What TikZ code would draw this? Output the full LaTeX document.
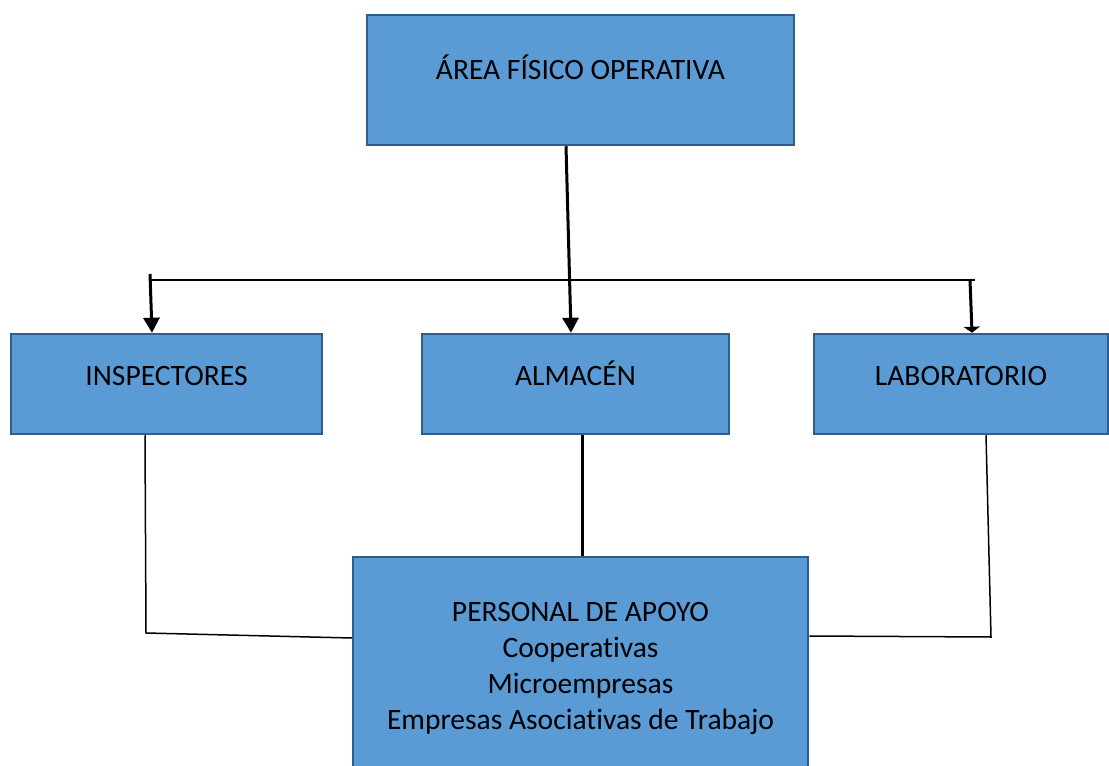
\documentclass[tikz,border=0pt]{standalone}
\usepackage{fontspec}
\setmainfont{Carlito}[Ligatures=NoCommon]
\usetikzlibrary{arrows.meta}
\definecolor{boxfill}{HTML}{5B9BD5}
\definecolor{boxedge}{HTML}{2F5D8C}
\newlength\pxl
\setlength\pxl{0.025cm}

\begin{document}
\begin{tikzpicture}[x=0.025cm, y=-0.025cm,
  box/.style={draw=boxedge, line width=2.5\pxl, fill=boxfill, inner sep=0pt,
    align=center, font=\fontsize{21pt}{25.6pt}\selectfont},
  link/.style={line width=1.5\pxl},
  arrowline/.style={line width=3\pxl, -{Triangle[length=0.375cm, width=0.4cm]}}]
\useasboundingbox (0,0) rectangle (1109,766);

% boxes
\node[box, minimum width=427\pxl, minimum height=130\pxl, text height=15pt, text depth=15.7pt] (area) at (580.5,80) {ÁREA FÍSICO OPERATIVA};
\node[box, minimum width=311\pxl, minimum height=100\pxl, text height=15pt, text depth=12.9pt] (ins) at (166.5,384) {INSPECTORES};
\node[box, minimum width=307\pxl, minimum height=100\pxl, text height=15pt, text depth=12.9pt] (alm) at (575.5,384) {ALMACÉN};
\node[box, minimum width=294\pxl, minimum height=100\pxl, text height=15pt, text depth=12.9pt] (lab) at (961,384) {LABORATORIO};
\node[box, minimum width=455\pxl, minimum height=223\pxl] (per) at (580.5,668.5)
  {PERSONAL DE APOYO\\ Cooperativas\\ Microempresas\\ Empresas Asociativas de Trabajo};

% top connectors
\coordinate (hl) at (150,280);
\coordinate (hr) at (975,280);
\coordinate (tl) at (150,274);
\coordinate (tr) at (970,280);
\draw[link] (hl) -- (hr);
\draw[arrowline] (tl) -- ([xshift=-14.5\pxl]ins.north);
\draw[arrowline] ([xshift=-14.5\pxl]area.south) -- ([xshift=-4.5\pxl]alm.north);
\draw[line width=3\pxl, -{Triangle[length=0.15cm, width=0.4cm]}] (tr) -- ([xshift=11\pxl]lab.north);

% bottom connectors
\coordinate (lc) at (146,633);
\coordinate (rc) at (991,637);
\draw[line width=3\pxl] ([xshift=6.5\pxl]alm.south) -- ([xshift=6.5\pxl]alm.south |- per.north);
\draw[link] ([xshift=-21.5\pxl]ins.south) -- (lc) -- ([yshift=30.5\pxl]per.west);
\draw[link] ([xshift=25\pxl]lab.south) -- (rc) -- ([yshift=32.5\pxl]per.east);
\end{tikzpicture}
\end{document}
